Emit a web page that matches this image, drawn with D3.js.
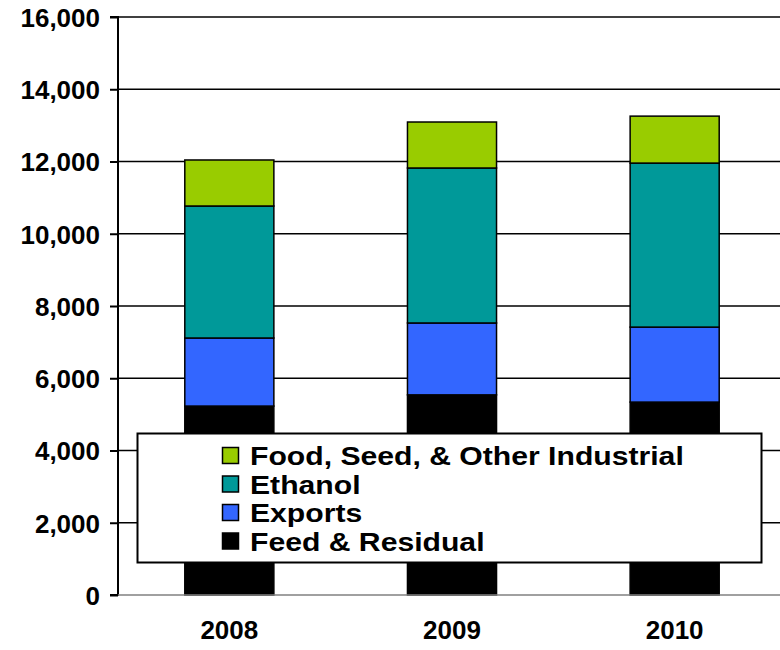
<!DOCTYPE html>
<html><head><meta charset="utf-8">
<script src="https://cdn.jsdelivr.net/npm/d3@7"></script>
<style>html,body{margin:0;padding:0;background:#fff;}</style>
</head><body>
<svg id="chart" width="780" height="650"></svg>
<script>
const years = ["2008", "2009", "2010"];
const seriesNames = ["Feed & Residual", "Exports", "Ethanol", "Food, Seed, & Other Industrial"];
const feedResidual = [5230, 5540, 5340];
const exportsVals = [1884, 1990, 2076];
const ethanol = [3654, 4290, 4540];
const foodSeed = [1274, 1273, 1300];
const colors = ["#000000", "#3366FF", "#009999", "#99CC00"];
const yTicks = [0, 2000, 4000, 6000, 8000, 10000, 12000, 14000, 16000];
const legendOrder = [3, 2, 1, 0];

const svg = d3.select("#chart");
const x0 = 118, x1 = 786, yBot = 595, yTop = 17;
const x = d3.scaleBand().domain(years).range([x0, x1]).paddingInner(0.6).paddingOuter(0.3);
const y = d3.scaleLinear().domain([0, 16000]).range([yBot, yTop]);

const rows = years.map((yr, i) => ({year: yr, s0: feedResidual[i], s1: exportsVals[i], s2: ethanol[i], s3: foodSeed[i]}));
const stack = d3.stack().keys(["s0", "s1", "s2", "s3"]);
const layers = stack(rows);

// gridlines
svg.append("g").selectAll("line").data(yTicks.filter(t => t > 0)).join("line")
  .attr("x1", x0).attr("x2", 780).attr("y1", d => y(d)).attr("y2", d => y(d))
  .attr("stroke", "#000").attr("stroke-width", 1.5);

// bars
svg.append("g").selectAll("g").data(layers).join("g")
  .attr("fill", (d, i) => colors[i])
  .selectAll("rect").data(d => d).join("rect")
  .attr("x", d => x(d.data.year))
  .attr("width", x.bandwidth())
  .attr("y", d => y(d[1]))
  .attr("height", d => y(d[0]) - y(d[1]))
  .attr("stroke", "#000").attr("stroke-width", 1.5);

// y axis
const yAxis = d3.axisLeft(y).tickValues(yTicks).tickSize(8).tickPadding(10).tickFormat(d3.format(","));
const ya = svg.append("g").attr("transform", `translate(${x0},0)`).call(yAxis);
ya.select(".domain").attr("stroke", "#000").attr("stroke-width", 2).attr("d", `M-8,${yTop}H0V${yBot}H-8`);
ya.selectAll(".tick line").attr("stroke", "#000").attr("stroke-width", 2);
ya.selectAll("text").attr("font-family", "Liberation Sans, Arial, sans-serif")
  .attr("font-weight", "bold").attr("font-size", 26).attr("fill", "#000").attr("dy", "0.36em");

// x axis
const xAxis = d3.axisBottom(x).tickSize(0).tickPadding(26);
const xa = svg.append("g").attr("transform", `translate(0,${yBot})`).call(xAxis);
xa.select(".domain").attr("stroke", "#808080").attr("stroke-width", 1.5).attr("d", `M${x0},0H780`);
xa.selectAll("text").attr("font-family", "Liberation Sans, Arial, sans-serif")
  .attr("font-weight", "bold").attr("font-size", 26).attr("fill", "#000");

// legend
const lg = svg.append("g");
lg.append("rect").attr("x", 137.5).attr("y", 433.5).attr("width", 624).attr("height", 129)
  .attr("fill", "#fff").attr("stroke", "#000").attr("stroke-width", 2);
const items = lg.selectAll("g.item").data(legendOrder).join("g").attr("class", "item")
  .attr("transform", (d, i) => `translate(222,${447 + i * 28.5})`);
items.append("rect").attr("x", 0.5).attr("y", 0.5).attr("width", 16).attr("height", 16)
  .attr("fill", d => colors[d]).attr("stroke", "#000").attr("stroke-width", 1.5);
items.append("text").attr("transform", "translate(28,18) scale(1.16,1)")
  .attr("font-family", "Liberation Sans, Arial, sans-serif").attr("font-weight", "bold")
  .attr("font-size", 26).attr("fill", "#000")
  .text(d => seriesNames[d]);
</script>
</body></html>
